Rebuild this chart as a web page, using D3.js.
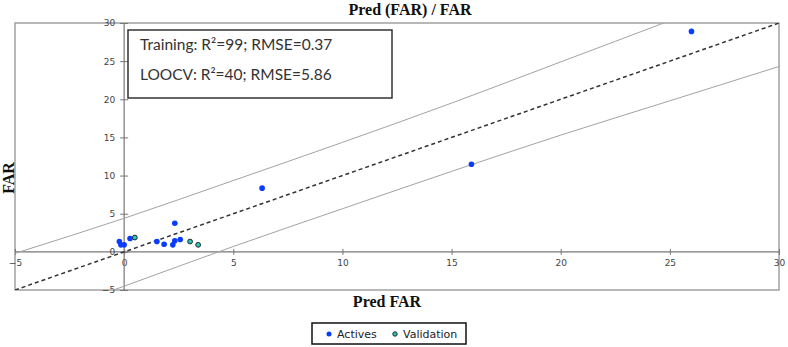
<!DOCTYPE html>
<html>
<head>
<meta charset="utf-8">
<script src="https://cdn.jsdelivr.net/npm/d3@7"></script>
<style>
  body { margin: 0; background: #fff; }
  svg { display: block; }
</style>
</head>
<body>
<div id="chart"></div>
<script>
// data
let activesX = [-0.22, -0.15, 0.0, 0.27, 1.5, 1.83, 2.23, 2.32, 2.32, 2.57, 6.32, 15.91, 25.99];
let activesY = [1.35, 0.92, 0.92, 1.75, 1.35, 1.0, 0.92, 1.44, 3.75, 1.62, 8.35, 11.49, 28.9];
let validX = [0.49, 3.02, 3.39];
let validY = [1.88, 1.35, 0.92];

// prediction band lines (upper / lower)
let bandX = [-5, 0, 5, 10, 15, 20, 25, 30];
let bandUpper = [-0.2, 4.4, 9.35, 14.35, 19.5, 24.9, 30.3, 35.8];
let bandLower = [-9.6, -4.5, 0.7, 5.65, 10.55, 15.3, 19.8, 24.3];

let xTicks = [-5, 0, 5, 10, 15, 20, 25, 30];
let yTicks = [-5, 0, 5, 10, 15, 20, 25, 30];

let statLines = ["Training: R\u00b2=99; RMSE=0.37", "LOOCV: R\u00b2=40; RMSE=5.86"];
let legendNames = ["Actives", "Validation"];

const width = 788, height = 347;
const plot = {left: 15, right: 779, top: 23, bottom: 290};

let svg = d3.select("#chart")
    .append("svg")
    .attr("width", width)
    .attr("height", height);

let x = d3.scaleLinear().domain([-5, 30]).range([plot.left, plot.right]);
let y = d3.scaleLinear().domain([-5, 30]).range([plot.bottom, plot.top]);

svg.append("clipPath").attr("id", "clip")
    .append("rect")
    .attr("x", plot.left).attr("y", plot.top)
    .attr("width", plot.right - plot.left).attr("height", plot.bottom - plot.top);

// title
svg.append("text")
    .attr("x", 410).attr("y", 15)
    .style("text-anchor", "middle")
    .style("font-family", "Liberation Serif, serif")
    .style("font-weight", "bold")
    .style("font-size", "16px")
    .style("fill", "#111")
    .text("Pred (FAR) / FAR");

// plot frame
svg.append("rect")
    .attr("x", plot.left).attr("y", plot.top)
    .attr("width", plot.right - plot.left).attr("height", plot.bottom - plot.top)
    .attr("fill", "none")
    .attr("stroke", "#a0a0a0")
    .attr("stroke-width", 1.5);

// axes crossing at zero
let xAxis = svg.append("g")
    .attr("transform", `translate(0, ${y(0)})`)
    .call(d3.axisBottom(x).tickValues(xTicks).tickSizeInner(0).tickSizeOuter(0).tickPadding(8));
let yAxis = svg.append("g")
    .attr("transform", `translate(${x(0)}, 0)`)
    .call(d3.axisLeft(y).tickValues(yTicks).tickSizeInner(0).tickSizeOuter(0).tickPadding(9));

[xAxis, yAxis].forEach(function(a) {
    a.select(".domain").attr("stroke", "#777").attr("stroke-width", 1.2);
    a.selectAll("text")
        .style("font-family", "DejaVu Sans, sans-serif")
        .style("font-size", "9px")
        .style("fill", "#444");
});
xAxis.selectAll(".tick").append("line")
    .attr("y1", -3).attr("y2", 3).attr("stroke", "#777");
yAxis.selectAll(".tick").append("line")
    .attr("x1", -4).attr("x2", 4).attr("stroke", "#777");
xAxis.select(".domain").attr("d", `M${plot.left},0H${plot.right}`);
yAxis.select(".domain").attr("d", `M0,${plot.top}V${plot.bottom}`);

// band + identity lines
let lines = svg.append("g").attr("clip-path", "url(#clip)");
let line = d3.line()
    .x(function(d) { return x(d[0]); })
    .y(function(d) { return y(d[1]); });

lines.append("path")
    .datum(bandX.map(function(v, i) { return [v, bandUpper[i]]; }))
    .attr("d", line.curve(d3.curveMonotoneX))
    .attr("fill", "none").attr("stroke", "#a3a3a3").attr("stroke-width", 1);
lines.append("path")
    .datum(bandX.map(function(v, i) { return [v, bandLower[i]]; }))
    .attr("d", line.curve(d3.curveMonotoneX))
    .attr("fill", "none").attr("stroke", "#a3a3a3").attr("stroke-width", 1);
lines.append("path")
    .datum([[-5, -5], [30, 30]])
    .attr("d", line.curve(d3.curveLinear))
    .attr("fill", "none")
    .attr("stroke", "#333")
    .attr("stroke-width", 1.5)
    .attr("stroke-dasharray", "4,3");

// points
svg.append("g").selectAll("circle")
    .data(activesX.map(function(v, i) { return [v, activesY[i]]; }))
    .enter().append("circle")
    .attr("cx", function(d) { return x(d[0]); })
    .attr("cy", function(d) { return y(d[1]); })
    .attr("r", 2.8)
    .attr("fill", "#0a3cff");

svg.append("g").selectAll("circle")
    .data(validX.map(function(v, i) { return [v, validY[i]]; }))
    .enter().append("circle")
    .attr("cx", function(d) { return x(d[0]); })
    .attr("cy", function(d) { return y(d[1]); })
    .attr("r", 2.4)
    .attr("fill", "#2ec4b6")
    .attr("stroke", "#1a2a2a")
    .attr("stroke-width", 1);

// stats box
svg.append("rect")
    .attr("x", 128).attr("y", 30).attr("width", 264).attr("height", 68)
    .attr("fill", "#fff").attr("stroke", "#333").attr("stroke-width", 1.5);
svg.append("g").selectAll("text")
    .data(statLines)
    .enter().append("text")
    .attr("x", 140)
    .attr("y", function(d, i) { return 50 + i * 30; })
    .style("font-family", "Lato, sans-serif")
    .style("font-size", "15.5px")
    .style("fill", "#333")
    .text(function(d) { return d; });

// axis labels
svg.append("text")
    .attr("x", 387).attr("y", 307)
    .style("text-anchor", "middle")
    .style("font-family", "Liberation Serif, serif")
    .style("font-weight", "bold")
    .style("font-size", "16px")
    .style("fill", "#111")
    .text("Pred FAR");
svg.append("text")
    .attr("transform", "translate(14, 178) rotate(-90)")
    .style("text-anchor", "middle")
    .style("font-family", "Liberation Serif, serif")
    .style("font-weight", "bold")
    .style("font-size", "16px")
    .style("fill", "#111")
    .text("FAR");

// legend
let legend = svg.append("g");
legend.append("rect")
    .attr("x", 312).attr("y", 323).attr("width", 154).attr("height", 21)
    .attr("fill", "#fff").attr("stroke", "#111").attr("stroke-width", 1.5);
let legendX = [329, 395];
legendNames.forEach(function(name, i) {
    legend.append("circle")
        .attr("cx", legendX[i]).attr("cy", 334)
        .attr("r", i == 0 ? 2.5 : 2.2)
        .attr("fill", i == 0 ? "#0a3cff" : "#2ec4b6")
        .attr("stroke", i == 0 ? "none" : "#1a2a2a");
    legend.append("text")
        .attr("x", legendX[i] + 8).attr("y", 338)
        .style("font-family", "DejaVu Sans, sans-serif")
        .style("font-size", "11px")
        .style("fill", "#222")
        .text(name);
});
</script>
</body>
</html>
